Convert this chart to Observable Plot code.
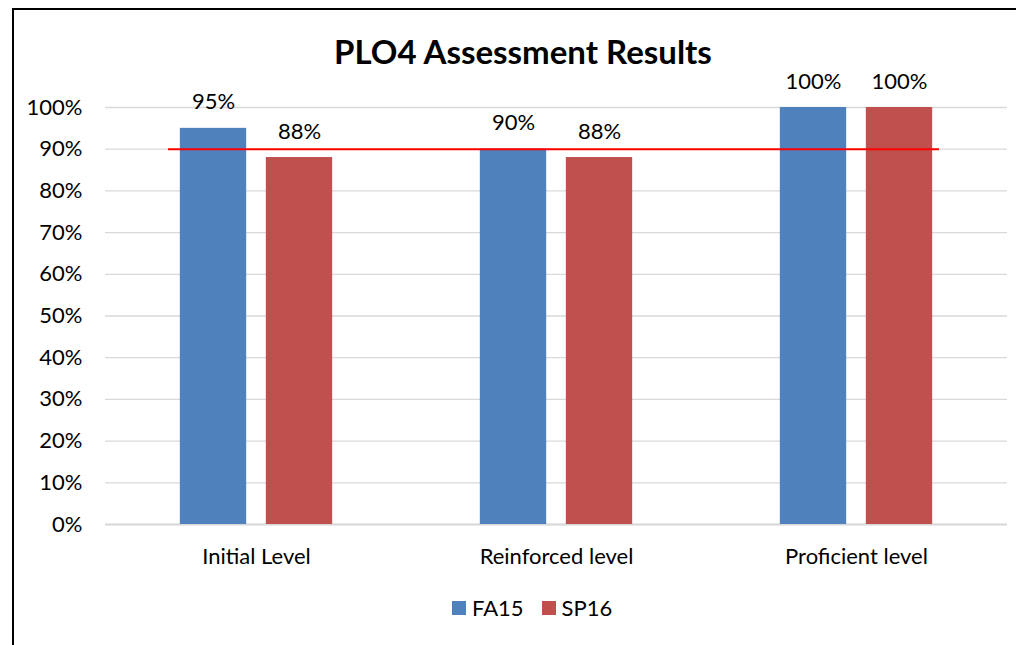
<!DOCTYPE html>
<html>
<head>
<meta charset="utf-8">
<script src="https://cdn.jsdelivr.net/npm/d3@7"></script>
<script src="https://cdn.jsdelivr.net/npm/@observablehq/plot@0.6"></script>
<style>
  html, body { margin: 0; padding: 0; background: #fff; width: 1016px; height: 645px; overflow: hidden; }
  body { position: relative; font-family: Lato, "Open Sans", sans-serif; }
  #frame { position: absolute; left: 12px; top: 8px; width: 1020px; height: 660px; border: 2px solid #000; box-sizing: border-box; }
  #title { position: absolute; left: 0; width: 1046px; top: 31px; text-align: center; font-weight: bold; font-size: 33px; line-height: 40px; color: #000; }
  #chart { position: absolute; left: 0; top: 50px; }
  #legend { position: absolute; left: 452px; top: 596px; display: flex; align-items: center; font-size: 22px; color: #000; line-height: 24px; }
  #legend .sw { display: inline-block; width: 14px; height: 14px; margin-right: 6px; }
  #legend .item { display: flex; align-items: center; margin-right: 18px; }
</style>
</head>
<body>
<div id="frame"></div>
<div id="title">PLO4 Assessment Results</div>
<div id="chart"></div>
<div id="legend"></div>
<script>
const categories = ["Initial Level", "Reinforced level", "Proficient level"];
const series = ["FA15", "SP16"];
const fa15 = [0.95, 0.90, 1.00];
const sp16 = [0.88, 0.88, 1.00];
const target = 0.90;
const yTicks = [0, 0.1, 0.2, 0.3, 0.4, 0.5, 0.6, 0.7, 0.8, 0.9, 1.0];
const colors = ["#4F81BD", "#C0504D"];

const rows = [];
categories.forEach((c, i) => {
  rows.push({category: c, series: series[0], value: fa15[i]});
  rows.push({category: c, series: series[1], value: sp16[i]});
});

const width = 1016, height = 520;
const marginLeft = 105, marginRight = 9, marginTop = 57, marginBottom = 46;
const band = (width - marginLeft - marginRight) / categories.length;
const barW = 67, gap = 19;
const inset = (band - barW) / 2;
const off = (barW + gap) / 2;
const fmt = d3.format(".0%");
const font = "Lato, 'Open Sans', sans-serif";

const marks = [
  Plot.gridY(yTicks, {stroke: "#D9D9D9", strokeOpacity: 1, strokeWidth: 1.3}),
  Plot.ruleY([0], {stroke: "#D9D9D9", strokeWidth: 2})
];
series.forEach((s, k) => {
  const d = rows.filter(r => r.series === s);
  const dx = k === 0 ? -off : off;
  marks.push(Plot.barY(d, {x: "category", y: "value", fill: "series", dx, insetLeft: inset, insetRight: inset}));
  marks.push(Plot.text(d, {x: "category", y: "value", text: r => fmt(r.value), dx, dy: -19, lineAnchor: "bottom", fontSize: 22, fill: "#000"}));
});
marks.push(Plot.ruleY([target], {x1: () => categories[0], x2: () => categories[categories.length - 1], insetLeft: 62, insetRight: 67, stroke: "#FF0000", strokeWidth: 2}));
marks.push(Plot.axisY(yTicks, {tickFormat: fmt, tickSize: 0, tickPadding: 23, fontSize: 22, fill: "#000", label: null}));
marks.push(Plot.axisX({tickSize: 0, tickPadding: 24, fontSize: 22, fill: "#000", label: null}));

const chart = Plot.plot({
  width, height, marginLeft, marginRight, marginTop, marginBottom,
  style: {fontFamily: font, background: "transparent", color: "#000", overflow: "visible"},
  x: {domain: categories, padding: 0, label: null},
  y: {domain: [0, 1], label: null},
  color: {domain: series, range: colors},
  marks
});
document.getElementById("chart").appendChild(chart);

const legendEl = document.getElementById("legend");
series.forEach((s, k) => {
  const item = document.createElement("span");
  item.className = "item";
  const sw = document.createElement("span");
  sw.className = "sw";
  sw.style.background = colors[k];
  const label = document.createElement("span");
  label.textContent = s;
  item.appendChild(sw);
  item.appendChild(label);
  legendEl.appendChild(item);
});
</script>
</body>
</html>
